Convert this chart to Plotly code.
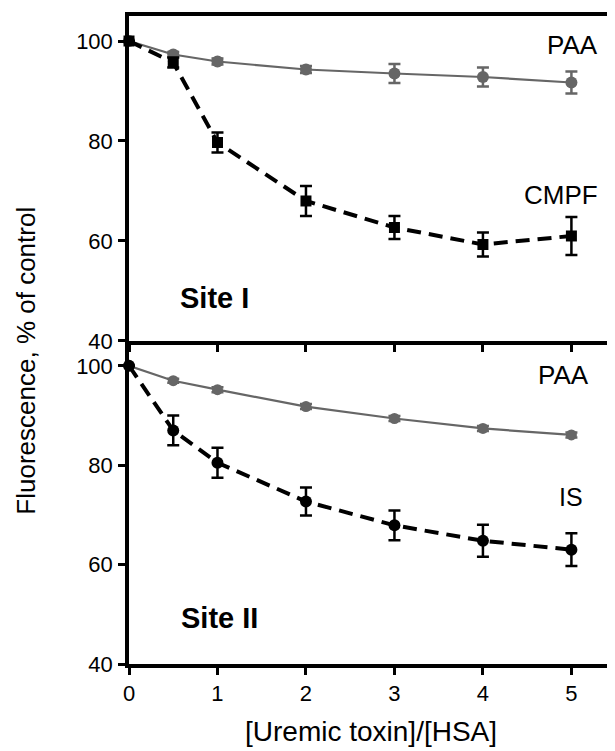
import plotly.graph_objects as go

ratio = [0, 0.5, 1, 2, 3, 4, 5]

# Site I panel
paa1 = [100, 97.3, 95.9, 94.3, 93.5, 92.8, 91.7]
paa1_err = [0, 0.5, 0.6, 0.7, 1.9, 1.9, 2.2]
cmpf = [100, 95.7, 79.7, 68.0, 62.7, 59.3, 61.0]
cmpf_err = [0, 1.0, 2.0, 3.0, 2.3, 2.4, 3.8]

# Site II panel
paa2 = [100, 97.0, 95.2, 91.8, 89.4, 87.4, 86.1]
paa2_err = [0, 0.4, 0.5, 0.5, 0.5, 0.5, 0.5]
is_vals = [100, 87.0, 80.5, 72.7, 67.9, 64.8, 63.0]
is_err = [0, 3.0, 3.0, 2.8, 3.0, 3.2, 3.3]

y_ticks = [40, 60, 80, 100]
x_ticks = [0, 1, 2, 3, 4, 5]

GRAY = "#666666"
BLACK = "#000000"
FONT = "Arial, Liberation Sans, Helvetica, sans-serif"

fig = go.Figure()

def add_series(x, y, err, color, symbol, size, dashed, lw, xa, ya):
    fig.add_trace(go.Scatter(
        x=x, y=y, xaxis=xa, yaxis=ya, mode="lines+markers",
        line=dict(color=color, width=lw, dash="14px,8px" if dashed else "solid"),
        marker=dict(color=color, symbol=symbol, size=size),
        error_y=dict(type="data", array=err, visible=True, color=color,
                     thickness=2.5, width=6),
        cliponaxis=False, showlegend=False))

# top panel (Site I)
add_series(ratio, paa1, paa1_err, GRAY, "circle", 12, False, 2.2, "x2", "y2")
add_series(ratio, cmpf, cmpf_err, BLACK, "square", 11, True, 4, "x2", "y2")
# bottom panel (Site II)
add_series(ratio, paa2, paa2_err, GRAY, "circle", 11, False, 2.2, "x", "y")
add_series(ratio, is_vals, is_err, BLACK, "circle", 12, True, 4, "x", "y")

xcommon = dict(range=[0, 5.47], tickvals=x_ticks, ticks="outside", ticklen=7,
               tickwidth=3, tickcolor=BLACK, showline=True, linewidth=3.5,
               linecolor=BLACK, showgrid=False, zeroline=False,
               tickfont=dict(family=FONT, size=22, color=BLACK))
ycommon = dict(range=[40, 105], tickvals=y_ticks, ticks="outside", ticklen=7,
               tickwidth=3, tickcolor=BLACK, showline=True, linewidth=3.5,
               linecolor=BLACK, showgrid=False, zeroline=False,
               tickfont=dict(family=FONT, size=22, color=BLACK),
               ticklabelstandoff=1)

# page body has an 8px margin, so the figure is offset by (8, 8)
fig.update_layout(
    width=607, height=743,
    margin=dict(l=121, r=2, t=8, b=87),
    paper_bgcolor="white", plot_bgcolor="white",
    font=dict(family=FONT, color=BLACK),
    xaxis=dict(**xcommon, anchor="y", ticklabelstandoff=0),
    yaxis=dict(**ycommon, domain=[0, 0.4985], anchor="x"),
    xaxis2=dict(**xcommon, anchor="y2", showticklabels=False, mirror=True),
    yaxis2=dict(**ycommon, domain=[0.4985, 1], anchor="x2"),
    shapes=[dict(type="line", xref="paper", yref="paper", x0=1, x1=1, y0=0, y1=1,
                 line=dict(color="#222222", width=2))],
)

ann = [
    dict(text="PAA", x=5.32, y=99.3, xref="x2", yref="y2", xanchor="right", yanchor="middle", size=26, bold=False),
    dict(text="CMPF", x=5.32, y=69.1, xref="x2", yref="y2", xanchor="right", yanchor="middle", size=26, bold=False),
    dict(text="Site I", x=0.55, y=48.6, xref="x2", yref="y2", xanchor="left", yanchor="middle", size=29, bold=True),
    dict(text="PAA", x=5.22, y=98.2, xref="x", yref="y", xanchor="right", yanchor="middle", size=26, bold=False),
    dict(text="IS", x=5.0, y=73.6, xref="x", yref="y", xanchor="center", yanchor="middle", size=25, bold=False),
    dict(text="Site II", x=0.566, y=49.2, xref="x", yref="y", xanchor="left", yanchor="middle", size=29, bold=True),
]
for a in ann:
    t = "<b>%s</b>" % a["text"] if a["bold"] else a["text"]
    fig.add_annotation(text=t, x=a["x"], y=a["y"], xref=a["xref"], yref=a["yref"],
                       xanchor=a["xanchor"], yanchor=a["yanchor"], showarrow=False,
                       font=dict(family=FONT, size=a["size"], color=BLACK))

fig.add_annotation(text="Fluorescence, % of control", xref="paper", yref="paper",
                   x=-0.213, y=0.468, textangle=-90, showarrow=False,
                   xanchor="center", yanchor="middle",
                   font=dict(family=FONT, size=26, color=BLACK))
fig.add_annotation(text="[Uremic toxin]/[HSA]", xref="paper", yref="paper",
                   x=0.5, y=-0.1045, showarrow=False, xanchor="center", yanchor="middle",
                   font=dict(family=FONT, size=28, color=BLACK))

fig.write_html("out.html")
